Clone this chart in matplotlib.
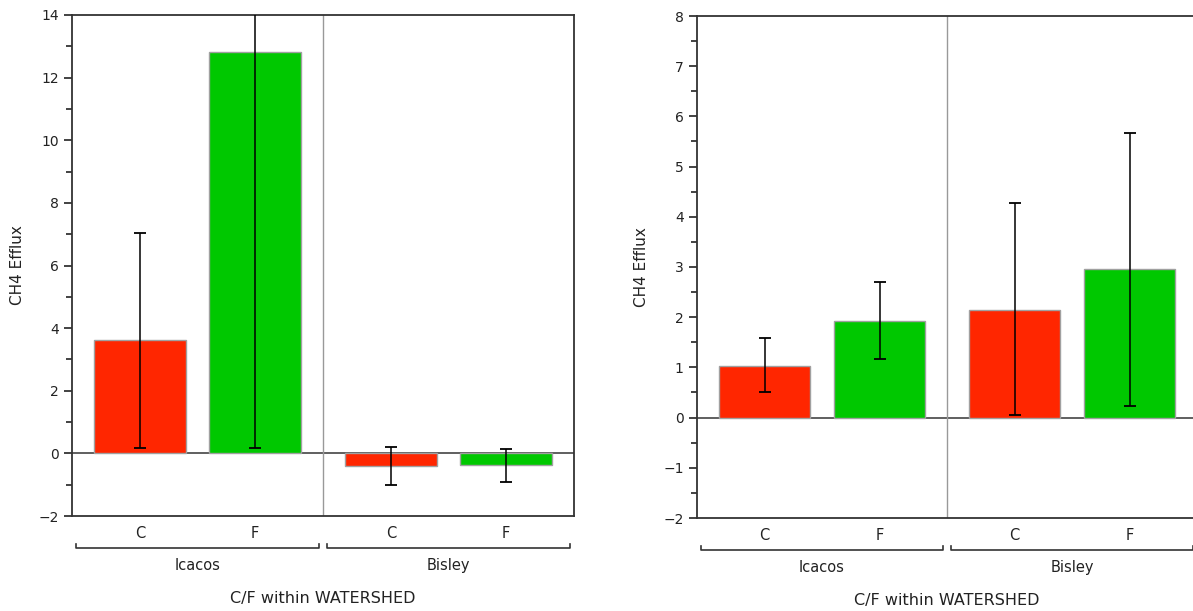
import numpy as np
import matplotlib.pyplot as plt
from matplotlib.ticker import MultipleLocator
import matplotlib.transforms as mtransforms

# data
watersheds = ["Icacos", "Bisley"]
cf_labels = ["C", "F", "C", "F"]

left_means = [3.62, 12.82, -0.40, -0.36]
left_lo = [0.18, 0.18, -1.00, -0.90]
left_hi = [7.05, 25.46, 0.19, 0.14]

right_means = [1.03, 1.93, 2.15, 2.97]
right_lo = [0.50, 1.16, 0.05, 0.23]
right_hi = [1.59, 2.70, 4.27, 5.67]

bar_colors = ["#ff2600", "#00c800", "#ff2600", "#00c800"]
xpos = [0.54, 1.46, 2.54, 3.46]

fig = plt.figure(figsize=(11.93, 6.11), dpi=100)
ax1 = fig.add_axes([72/1193, 1-516/611, 502/1193, 501/611])
ax2 = fig.add_axes([697/1193, 1-518/611, 500/1193, 502/611])


def panel(ax, means, lo, hi, ylim, major, minor):
    means = np.array(means)
    err = np.array([means - np.array(lo), np.array(hi) - means])
    ax.axhline(0, color="#444444", lw=1.2, zorder=1)
    ax.axvline(2, color="#999999", lw=1, zorder=1)
    ax.bar(xpos, means, width=0.73, color=bar_colors, edgecolor="#a0a0a0",
           linewidth=1, zorder=2)
    ax.errorbar(xpos, means, yerr=err, fmt="none", ecolor="black",
                elinewidth=1.1, capsize=4.5, capthick=1.3, zorder=3)
    ax.set_xlim(0, 4)
    ax.set_ylim(*ylim)
    ax.yaxis.set_major_locator(MultipleLocator(major))
    ax.yaxis.set_minor_locator(MultipleLocator(minor))
    ax.tick_params(axis="y", which="major", length=6, width=1.2,
                   labelsize=10, colors="#222222")
    ax.tick_params(axis="y", which="minor", length=4, width=1.2, colors="#222222")
    ax.set_xticks(xpos)
    ax.set_xticklabels(cf_labels, fontsize=10.5, color="#222222")
    ax.tick_params(axis="x", length=0, pad=7)
    for s in ax.spines.values():
        s.set_color("#333333")
        s.set_linewidth(1.3)
    ax.set_ylabel("CH4 Efflux", fontsize=11, color="#222222", labelpad=10)
    ax.set_xlabel("C/F within WATERSHED", fontsize=11.5, color="#222222",
                  labelpad=36)

    tr = mtransforms.blended_transform_factory(ax.transData, ax.transAxes)
    for g, name in enumerate(watersheds):
        x0 = 2 * g + 0.03
        x1 = 2 * g + 1.97
        ax.plot([x0, x0, x1, x1], [-0.056, -0.064, -0.064, -0.056],
                color="#333333", lw=1.2, transform=tr, clip_on=False)
        ax.text(2 * g + 1, -0.098, name, transform=tr, ha="center", va="center",
                fontsize=10.5, color="#222222")


panel(ax1, left_means, left_lo, left_hi, (-2, 14), 2, 1)
panel(ax2, right_means, right_lo, right_hi, (-2, 8), 1, 0.5)
ax2.spines["right"].set_visible(False)

fig.savefig("out.png", dpi=100)
